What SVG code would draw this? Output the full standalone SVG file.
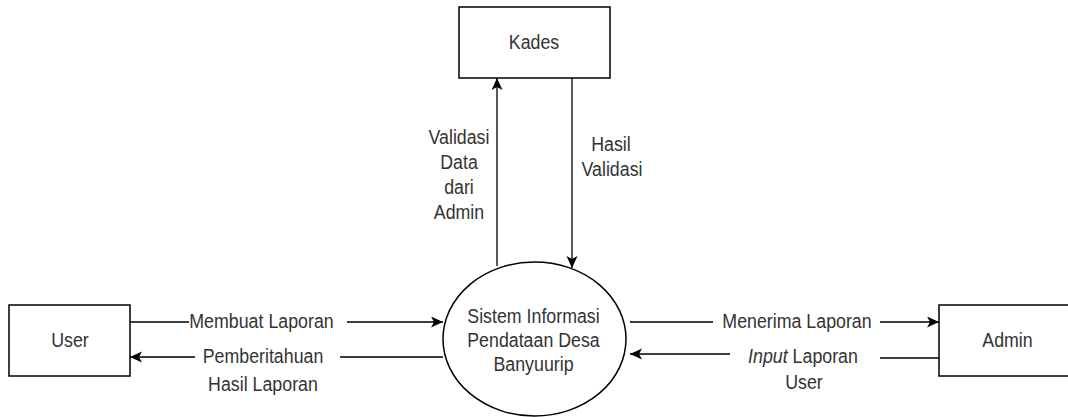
<svg xmlns="http://www.w3.org/2000/svg" width="1068" height="417" viewBox="0 0 1068 417">
  <style>
    .box { fill: #ffffff; stroke: #000000; stroke-width: 1.5; }
    .flow { fill: none; stroke: #000000; stroke-width: 1.3; }
    .t { font-family: "Liberation Sans", Arial, sans-serif; font-size: 17.8px; fill: #333333; text-anchor: middle;
         transform-box: fill-box; transform-origin: center; transform: scaleY(1.18); }
  </style>
  <defs>
    <marker id="arrow" markerUnits="userSpaceOnUse" markerWidth="13" markerHeight="12" refX="12" refY="5.5" orient="auto">
      <path d="M0,0 L12,5.5 L0,11 L3,5.5 Z" fill="#000000"/>
    </marker>
  </defs>
  <rect width="1068" height="417" fill="#ffffff"/>

  <!-- data flows -->
  <g id="connectors">
    <path class="flow" d="M130,322 H189 M347,322 H443" marker-end="url(#arrow)"/>
    <path class="flow" d="M443,357 H340 M195,357 H130" marker-end="url(#arrow)"/>
    <path class="flow" d="M630,322 H713 M880,322 H939" marker-end="url(#arrow)"/>
    <path class="flow" d="M939,358 H880 M730,354 H630" marker-end="url(#arrow)"/>
    <path class="flow" d="M497,266 V78" marker-end="url(#arrow)"/>
    <path class="flow" d="M572,78 V268" marker-end="url(#arrow)"/>

    <text class="t" x="261.5" y="327">Membuat Laporan</text>
    <text class="t" x="263" y="362">Pemberitahuan</text>
    <text class="t" x="263" y="390">Hasil Laporan</text>
    <text class="t" x="797" y="327">Menerima Laporan</text>
    <text class="t" x="803" y="362"><tspan font-style="italic">Input</tspan> Laporan</text>
    <text class="t" x="804" y="388">User</text>
    <text class="t" x="459" y="143">Validasi</text>
    <text class="t" x="459" y="168">Data</text>
    <text class="t" x="459" y="193">dari</text>
    <text class="t" x="459" y="218">Admin</text>
    <text class="t" x="611" y="150">Hasil</text>
    <text class="t" x="612" y="175">Validasi</text>
  </g>

  <g id="kades">
    <rect class="box" x="459" y="7" width="151" height="71"/>
    <text class="t" x="534" y="48">Kades</text>
  </g>

  <g id="user">
    <rect class="box" x="9" y="305" width="121" height="71"/>
    <text class="t" x="70" y="346">User</text>
  </g>

  <g id="admin">
    <rect class="box" x="939" y="305" width="150" height="71"/>
    <text class="t" x="1007.5" y="346">Admin</text>
  </g>

  <g id="sistem">
    <ellipse class="box" cx="534.5" cy="339" rx="91.5" ry="77"/>
    <text class="t" x="533.5" y="322">Sistem Informasi</text>
    <text class="t" x="533.5" y="346">Pendataan Desa</text>
    <text class="t" x="533.5" y="370">Banyuurip</text>
  </g>
</svg>
